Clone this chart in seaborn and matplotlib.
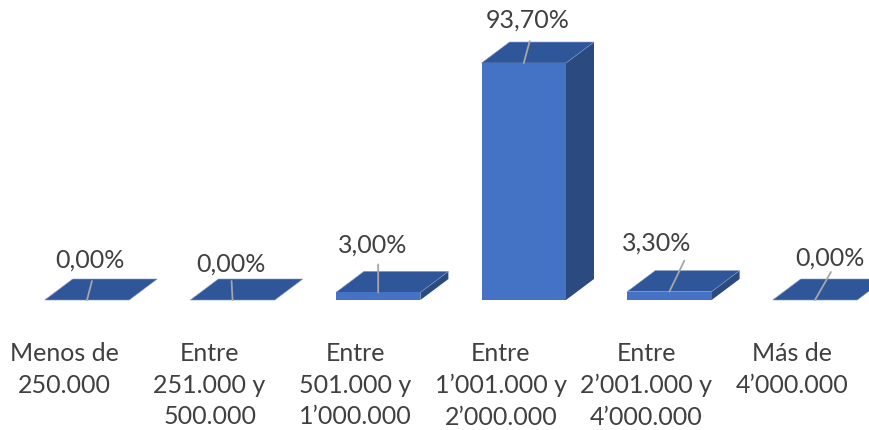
import matplotlib
matplotlib.use("Agg")
import matplotlib.pyplot as plt
from matplotlib.patches import Polygon
from matplotlib.transforms import ScaledTranslation
import seaborn as sns

# data
categories = [
    "Menos de\n250.000",
    "Entre\n251.000 y\n500.000",
    "Entre\n501.000 y\n1\u2019000.000",
    "Entre\n1\u2019001.000 y\n2\u2019000.000",
    "Entre\n2\u2019001.000 y\n4\u2019000.000",
    "Más de\n4\u2019000.000",
]
values = [0.0, 0.0, 3.0, 93.7, 3.3, 0.0]
value_labels = ["0,00%", "0,00%", "3,00%", "93,70%", "3,30%", "0,00%"]

# label placement (pixel offsets from the bar's top front centre)
label_offsets = [(3, 41), (-2, 37), (-6, 48), (4, 44), (-13, 50), (15, 43)]
leader_ends = [(5, 19), (-1, 19), (0, 28), (6, 22), (15, 31), (16, 28)]

front_color = "#4472C4"
top_color = "#30569A"
side_color = "#2A4A80"
text_color = "#404040"

sns.set_theme(style="white")
plt.rcParams["font.family"] = ["Lato", "DejaVu Sans"]

fig = plt.figure(figsize=(8.69, 4.31), dpi=100)
ax = fig.add_axes([0.0163, 0.3016, 1.0053, 0.5868])

sns.barplot(x=categories, y=values, color=front_color, saturation=1,
            width=0.58, ax=ax, zorder=3, linewidth=0)

ax.set_xlim(-0.5, 5.5)
ax.set_ylim(0, 100)

# 3D depth in data units (~28 px right, ~21 px up)
depth_x = 28 / 145.6
depth_y = 21 / 2.529

for bar in ax.patches[:len(values)]:
    x0 = bar.get_x()
    w = bar.get_width()
    h = bar.get_height()
    top = Polygon([(x0, h), (x0 + w, h), (x0 + w + depth_x, h + depth_y),
                   (x0 + depth_x, h + depth_y)], closed=True,
                  facecolor=top_color, edgecolor="#7f97c4", linewidth=0.4,
                  zorder=2, clip_on=False)
    side = Polygon([(x0 + w, 0), (x0 + w + depth_x, depth_y),
                    (x0 + w + depth_x, h + depth_y), (x0 + w, h)], closed=True,
                   facecolor=side_color, edgecolor="none", zorder=2,
                   clip_on=False)
    ax.add_patch(side)
    ax.add_patch(top)

for i, (v, lab) in enumerate(zip(values, value_labels)):
    ox, oy = label_offsets[i]
    lx, ly = leader_ends[i]
    ax.annotate("", xy=(i, v), xytext=(lx, ly), textcoords="offset pixels",
                arrowprops=dict(arrowstyle="-", color="#A6A6A6", lw=1.3,
                                shrinkA=0, shrinkB=0),
                annotation_clip=False, zorder=5)
    ax.annotate(lab, xy=(i, v), xytext=(ox, oy), textcoords="offset pixels",
                ha="center", va="center", fontsize=18, color=text_color,
                annotation_clip=False, zorder=6)

ax.tick_params(axis="x", length=0, pad=29.5, labelsize=18, labelcolor=text_color)
ax.set_yticks([])
ax.set_xlabel("")
ax.set_ylabel("")
for lbl in ax.get_xticklabels():
    lbl.set_linespacing(1.45)
    lbl.set_transform(lbl.get_transform() +
                      ScaledTranslation(-0.23, 0, fig.dpi_scale_trans))
sns.despine(ax=ax, left=True, bottom=True)

fig.savefig("out.png", dpi=100)
